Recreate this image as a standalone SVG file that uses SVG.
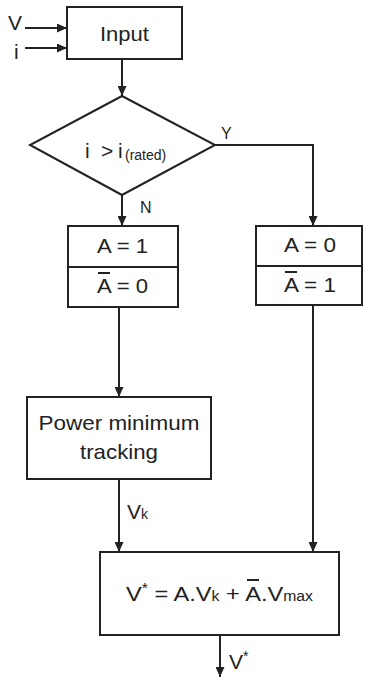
<svg xmlns="http://www.w3.org/2000/svg" width="365" height="679" viewBox="0 0 365 679">
<style>
.box{fill:#fff;stroke:#222;stroke-width:2}
.ln{fill:none;stroke:#222;stroke-width:2}
.t{font-family:"Liberation Sans",Arial,sans-serif;fill:#222;font-size:21px}
.s{font-size:14px}
.lbl{font-family:"Liberation Sans",Arial,sans-serif;fill:#222;font-size:16px}
</style>
<defs>
<marker id="ah" markerUnits="userSpaceOnUse" markerWidth="10" markerHeight="9" refX="10" refY="4.5" orient="auto">
<path d="M0,0 L10,4.5 L0,9 z" fill="#222"/>
</marker>
</defs>
<rect width="365" height="679" fill="#fff"/>
<g id="connectors">
<line class="ln" x1="25" y1="28" x2="67" y2="28" marker-end="url(#ah)"/>
<line class="ln" x1="25" y1="48" x2="67" y2="48" marker-end="url(#ah)"/>
<line class="ln" x1="122" y1="59" x2="122" y2="96" marker-end="url(#ah)"/>
<line class="ln" x1="122" y1="195" x2="122" y2="226" marker-end="url(#ah)"/>
<path class="ln" d="M215,145 H313 V226" marker-end="url(#ah)"/>
<line class="ln" x1="119" y1="307" x2="119" y2="397" marker-end="url(#ah)"/>
<line class="ln" x1="119" y1="479" x2="119" y2="552" marker-end="url(#ah)"/>
<line class="ln" x1="313" y1="305" x2="313" y2="552" marker-end="url(#ah)"/>
<line class="ln" x1="220" y1="635" x2="220" y2="677" marker-end="url(#ah)"/>
<text class="t" x="8" y="30" font-size="22">V</text>
<text class="t" x="14" y="59" font-size="22">i</text>
<text class="lbl" x="221" y="139">Y</text>
<text class="lbl" x="140" y="213">N</text>
<text class="t" x="127" y="519">V<tspan class="s">k</tspan></text>
<text class="t" x="229" y="669">V<tspan class="s" dy="-8">*</tspan></text>
</g>
<g id="input">
<rect class="box" x="67" y="7" width="115" height="52"/>
<text class="t" x="124.5" y="41" text-anchor="middle" textLength="49" lengthAdjust="spacingAndGlyphs">Input</text>
</g>
<g id="decision">
<polygon class="box" points="122,96 215,145 122,195 30,145"/>
<text class="t" y="158"><tspan x="85">i</tspan><tspan x="101">&gt;</tspan><tspan x="118">i</tspan><tspan x="125" class="s" dy="2" font-size="13px">(rated)</tspan></text>
</g>
<g id="left-box">
<rect class="box" x="68" y="226" width="110" height="81"/>
<line class="ln" x1="68" y1="267" x2="178" y2="267"/>
<text class="t" x="97" y="253" textLength="51" lengthAdjust="spacingAndGlyphs">A = 1</text>
<text class="t" x="97" y="293" textLength="51" lengthAdjust="spacingAndGlyphs">A = 0</text>
<line class="ln" x1="98" y1="273" x2="110" y2="273"/>
</g>
<g id="right-box">
<rect class="box" x="256" y="226" width="106" height="79"/>
<line class="ln" x1="256" y1="266" x2="362" y2="266"/>
<text class="t" x="284" y="252" textLength="52" lengthAdjust="spacingAndGlyphs">A = 0</text>
<text class="t" x="284" y="292" textLength="52" lengthAdjust="spacingAndGlyphs">A = 1</text>
<line class="ln" x1="285" y1="272" x2="297" y2="272"/>
</g>
<g id="tracking">
<rect class="box" x="27" y="397" width="184" height="82"/>
<text class="t" x="119" y="430" text-anchor="middle" textLength="161" lengthAdjust="spacingAndGlyphs">Power minimum</text>
<text class="t" x="119" y="459" text-anchor="middle" textLength="78" lengthAdjust="spacingAndGlyphs">tracking</text>
</g>
<g id="output">
<rect class="box" x="100" y="552" width="239" height="83"/>
<text class="t" x="126" y="601" textLength="187" lengthAdjust="spacingAndGlyphs">V<tspan class="s" dy="-8">*</tspan><tspan dy="8"> = A.V</tspan><tspan class="s">k</tspan><tspan> + A.V</tspan><tspan class="s" font-size="15px">max</tspan></text>
<line class="ln" x1="247" y1="580" x2="259" y2="580"/>
</g>
</svg>
